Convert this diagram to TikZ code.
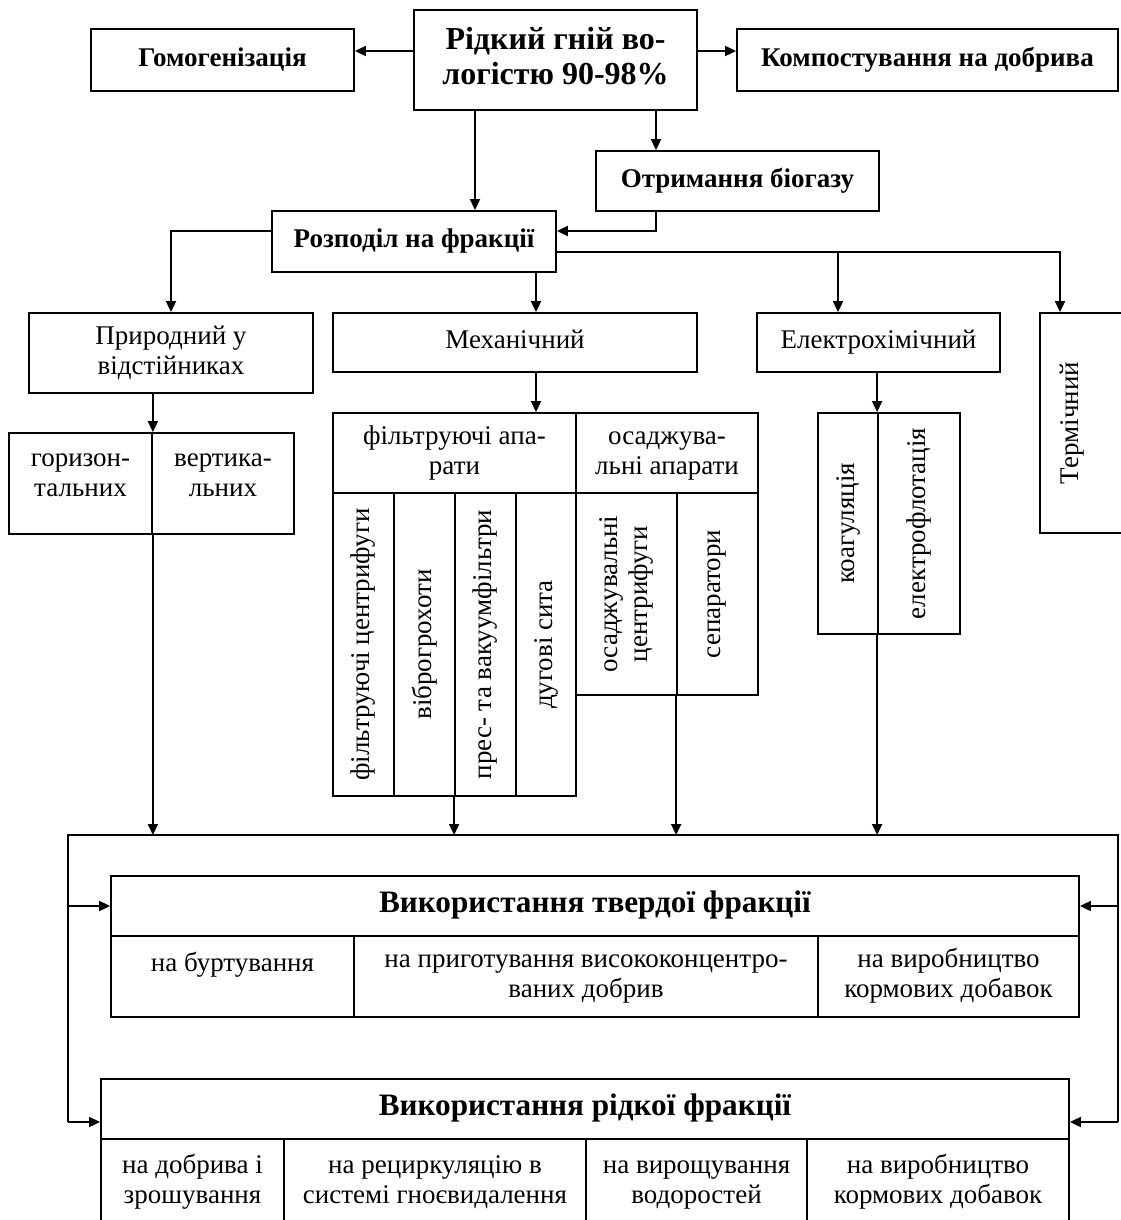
\documentclass[tikz,border=0pt]{standalone}
\usepackage{fontspec}
\setmainfont{Liberation Serif}
\usetikzlibrary{arrows.meta,calc}
\tikzset{
  ln/.style={line width=0.9pt},
  arr/.style={ln,-{Triangle[length=5.5pt,width=5pt]}},
  bx/.style={draw,line width=0.9pt,inner sep=1pt,align=center,font=\fontsize{13.5}{15}\selectfont},
  bbx/.style={bx,font=\fontsize{13.5}{16}\selectfont\bfseries},
  rbx/.style={draw,line width=0.9pt,inner sep=0pt,font=\fontsize{13.5}{15}\selectfont},
}
\newcommand\rbox[7][]{%
  \node[#1,minimum width={(#5-#3)*0.5pt},minimum height={(#6-#4)*0.5pt}] (#2) at ({(#3+#5)/2},{(#4+#6)/2}) {#7};}
\newcommand\tbox[7][]{%
  \node[#1,minimum width={(#5-#3)*0.5pt},minimum height={(#6-#4)*0.5pt}] (#2) at ({(#3+#5)/2},{(#4+#6)/2}) {\strut#7\strut};}
\newcommand\rot[1]{\rotatebox{90}{#1}}
\newcommand\rottwo[2]{\rotatebox{90}{\begin{tabular}{@{}c@{}}#1\\#2\end{tabular}}}
\begin{document}
\begin{tikzpicture}[x=0.5pt,y=-0.5pt]
\useasboundingbox (0,0) rectangle (1120,1220);
% top row
\tbox[bbx,font=\fontsize{16}{17.5}\selectfont\bfseries]{main}{414}{10}{697}{110}{Рідкий гній во-\\логістю 90-98\%}
\tbox[bbx]{homo}{91}{29}{354}{91}{Гомогенізація}
\tbox[bbx]{komp}{737}{29}{1118}{91}{Компостування на добрива}
\tbox[bbx]{biogas}{596}{151}{879}{211}{Отримання біогазу}
\tbox[bbx]{rozp}{272}{211}{556}{272}{Розподіл на фракції}
% methods
\tbox[bx]{pryr}{29}{313}{313}{393}{Природний у\\відстійниках}
\tbox[bx]{mech}{333}{313}{697}{372}{Механічний}
\tbox[bx]{elec}{757}{313}{1000}{372}{Електрохімічний}
\rbox[rbx]{term}{1040}{313}{1130}{533}{\rot{Термічний}\hspace*{13pt}}
% natural
\tbox[bx]{hor}{9}{433}{152}{534}{горизон-\\тальних\\[-7pt]\mbox{}}
\tbox[bx]{ver}{152}{433}{294}{534}{вертика-\\льних\\[-7pt]\mbox{}}
% mechanical
\tbox[bx]{filt}{333}{413}{576}{493}{фільтруючі апа-\\рати}
\tbox[bx]{osad}{576}{413}{758}{493}{осаджува-\\льні апарати}
\rbox[rbx]{c1}{333}{493}{394}{796}{\rot{фільтруючі центрифуги}}
\rbox[rbx]{c2}{394}{493}{455}{796}{\rot{віброгрохоти}}
\rbox[rbx]{c3}{455}{493}{516}{796}{\rot{прес- та вакуумфільтри}}
\rbox[rbx]{c4}{516}{493}{576}{796}{\rot{дугові сита}}
\rbox[rbx]{o1}{576}{493}{677}{695}{\rottwo{осаджувальні}{центрифуги}}
\rbox[rbx]{o2}{677}{493}{758}{695}{\rot{сепаратори}}
% electrochemical
\rbox[rbx]{koag}{818}{413}{878}{634}{\rot{коагуляція}}
\rbox[rbx]{eflot}{878}{413}{960}{634}{\rot{електрофлотація}}
% solid fraction
\tbox[bbx,font=\fontsize{15.6}{17}\selectfont\bfseries]{tverd}{111}{876}{1079}{936}{Використання твердої фракції}
\tbox[bx]{t1}{111}{936}{354}{1017}{на буртування\\[-3.5pt]\mbox{}}
\tbox[bx]{t2}{354}{936}{818}{1017}{на приготування висококонцентро-\\ваних добрив}
\tbox[bx]{t3}{818}{936}{1079}{1017}{на виробництво\\кормових добавок}
% liquid fraction
\tbox[bbx,font=\fontsize{15.6}{17}\selectfont\bfseries]{ridk}{101}{1079}{1069}{1139}{Використання рідкої фракції}
\tbox[bx]{r1}{101}{1139}{284}{1226}{на добрива і\\зрошування}
\tbox[bx]{r2}{284}{1139}{586}{1226}{на рециркуляцію в\\системі гноєвидалення}
\tbox[bx]{r3}{586}{1139}{807}{1226}{на вирощування\\водоростей}
\tbox[bx]{r4}{807}{1139}{1069}{1226}{на виробництво\\кормових добавок}
% helper coordinates
\coordinate (xa) at (475,0);
\coordinate (xb) at (656,0);
\coordinate (xc) at (536,0);
\coordinate (xd) at (838,0);
\coordinate (xe) at (1060,0);
\coordinate (FL) at (68,835);
\coordinate (FR) at (1118,835);
\coordinate (BL) at (68,1122);
\coordinate (BR) at (1118,1122);
\coordinate (ry) at ([yshift=-5.25pt]rozp.east);
% connectors
\draw[arr] ([yshift=4.5pt]main.west) -- ([yshift=4.5pt]homo.east);
\draw[arr] ([yshift=4.5pt]main.east) -- ([yshift=4.5pt]komp.west);
\draw[arr] (main.south -| xa) -- (rozp.north -| xa);
\draw[arr] (main.south -| xb) -- (biogas.north -| xb);
\draw[arr] (biogas.south -| xb) |- ([yshift=5.25pt]rozp.east);
\draw[arr] ([yshift=5.25pt]rozp.west) -| (pryr.north);
\draw[arr] (rozp.south -| xc) -- (mech.north -| xc);
\draw[arr] (ry) -| (term.north -| xe);
\draw[arr] (ry -| xd) -- (elec.north -| xd);
\draw[arr] (pryr.south -| hor.east) -- (hor.north east);
\draw[arr] (mech.south -| xc) -- (filt.north -| xc);
\draw[arr] (elec.south -| eflot.west) -- (eflot.north west);
% to the frame
\draw[arr] (hor.south east) -- (hor.south east |- FL);
\draw[arr] (c3.south west) -- (c3.south west |- FL);
\draw[arr] (o2.south west) -- (o2.south west |- FL);
\draw[arr] (eflot.south west) -- (eflot.south west |- FL);
% frame
\draw[ln] (BL) -- (FL) -- (FR) -- (BR);
\draw[arr] (FL |- tverd.west) -- (tverd.west);
\draw[arr] (FR |- tverd.east) -- (tverd.east);
\draw[arr] (BL) -- (BL -| ridk.west);
\draw[arr] (BR) -- (BR -| ridk.east);
\end{tikzpicture}
\end{document}
